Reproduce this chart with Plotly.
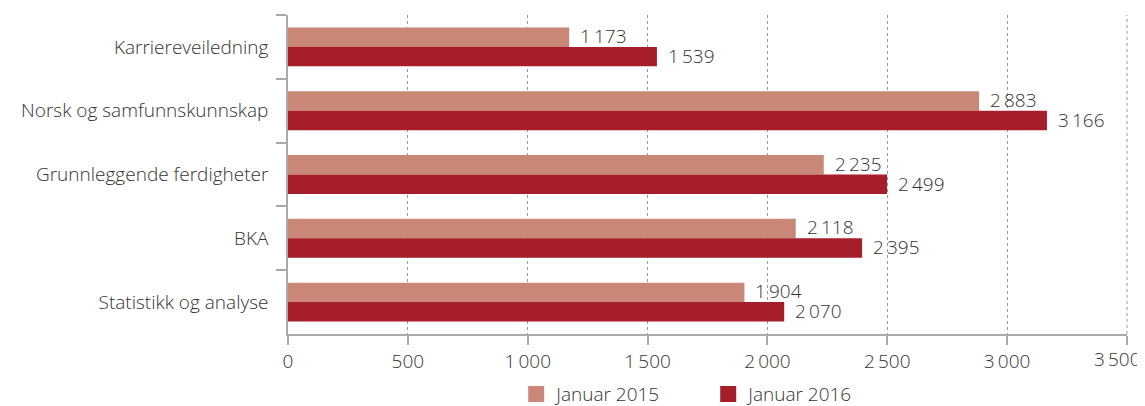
import plotly.graph_objects as go

categories = ["Karriereveiledning", "Norsk og samfunnskunnskap", "Grunnleggende ferdigheter", "BKA", "Statistikk og analyse"]
values_2015 = [1173, 2883, 2235, 2118, 1904]
values_2016 = [1539, 3166, 2499, 2395, 2070]
series_names = ["Januar 2015", "Januar 2016"]
tick_vals = [0, 500, 1000, 1500, 2000, 2500, 3000, 3500]

SP = "\u2009"
def fmt(v):
    s = f"{v:,}"
    return s.replace(",", SP)

FONT = "Open Sans"
TXT = "#333333"
C15 = "#C98877"
C16 = "#A51E2A"
FS = 19
F = dict(family=FONT, size=FS, color=TXT, weight=300)
GRID = "#9a9a9a"

# the last tick label is drawn separately, right-aligned at the figure edge as in the original
tick_text = [fmt(t) for t in tick_vals[:-1]] + [""]

fig = go.Figure()
for vals, col, nm in ((values_2015, C15, series_names[0]), (values_2016, C16, series_names[1])):
    fig.add_trace(go.Bar(y=categories, x=vals, name=nm, orientation="h", showlegend=False,
                         marker=dict(color=col, line=dict(width=0))))
for col, nm in ((C15, series_names[0]), (C16, series_names[1])):
    fig.add_trace(go.Scatter(x=[None], y=[None], mode="markers", name=nm,
                             marker=dict(symbol="square", size=18, color=col)))

for vals, ys in ((values_2015, 11), (values_2016, -9)):
    for c, v in zip(categories, vals):
        fig.add_annotation(x=v, y=c, text=fmt(v), showarrow=False, xanchor="left",
                           xshift=9, yshift=ys, font=F)

fig.add_annotation(x=tick_vals[-1], y=0, yref="paper", text=fmt(tick_vals[-1]), showarrow=False,
                   xanchor="right", yanchor="top", xshift=16, yshift=-10, font=F)

# dotted gridline at the far end of the axis (plotly omits the edge gridline)
fig.add_shape(type="line", xref="paper", yref="paper", x0=1, x1=1, y0=0, y1=1,
              line=dict(color=GRID, width=1, dash="dot"), layer="above")

# page body has an 8px margin: shrink figure accordingly
fig.update_layout(
    width=1137, height=398,
    margin=dict(l=280, r=18, t=7, b=72),
    paper_bgcolor="white", plot_bgcolor="white",
    barmode="group", bargap=0.39, bargroupgap=0,
    font=F,
    legend=dict(orientation="h", x=0.272, xanchor="left", yref="container", y=0.03, yanchor="middle",
                font=F, itemwidth=30, entrywidth=147, entrywidthmode="pixels", tracegroupgap=0),
    xaxis=dict(range=[0, 3500], tickvals=tick_vals, ticktext=tick_text,
               showgrid=True, gridcolor=GRID, griddash="dot", gridwidth=1,
               showline=True, linecolor="#aaaaaa", linewidth=1.5,
               ticks="outside", ticklen=9, tickcolor="#aaaaaa", tickwidth=1.5,
               ticklabelstandoff=0, ticklabeloverflow="allow",
               zeroline=False, fixedrange=True, automargin=False, tickfont=F),
    yaxis=dict(autorange="reversed", showgrid=False, showline=True, linecolor="#aaaaaa", linewidth=1.5,
               ticks="outside", tickson="boundaries", ticklen=10, tickcolor="#aaaaaa", tickwidth=1.5,
               ticklabelstandoff=14, automargin=False, tickfont=F),
)

fig.write_html("out.html")
